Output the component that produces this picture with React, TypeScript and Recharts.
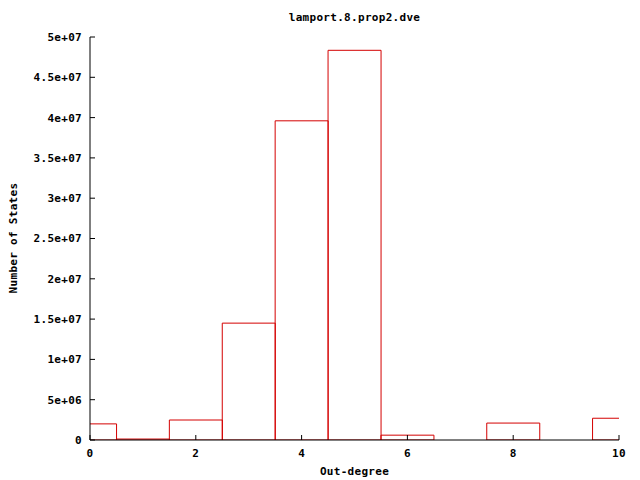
import { BarChart, Bar, XAxis, YAxis } from 'recharts';

const outDegrees = [0, 1, 2, 3, 4, 5, 6, 7, 8, 9, 10];
const stateCounts = [
  2.0e6, 0.12e6, 2.48e6, 14.5e6, 39.6e6, 48.35e6, 0.6e6, 0, 2.1e6, 0, 2.7e6,
];
const xTicks = [0, 2, 4, 6, 8, 10];
const yTicks = [0, 5e6, 1e7, 1.5e7, 2e7, 2.5e7, 3e7, 3.5e7, 4e7, 4.5e7, 5e7];

const data = outDegrees.map((d, i) => ({ degree: d, states: stateCounts[i] }));

const FONT = '"DejaVu Sans Mono", monospace';
const RED = '#d40000';

// gnuplot style: 0, 5e+06, 1.5e+07 ...
function fmtExp(v: number): string {
  if (v === 0) return '0';
  const [m, e] = v.toExponential().split('e');
  const exp = parseInt(e, 10);
  return `${m}e${exp < 0 ? '-' : '+'}${String(Math.abs(exp)).padStart(2, '0')}`;
}

const tickStyle = { fill: '#000', fontSize: 11, fontFamily: FONT, fontWeight: 700, letterSpacing: 0.3 };
const blank = () => '';

export default function App() {
  return (
    <div style={{ position: 'absolute', left: 0, top: 0, width: 640, height: 480, background: '#fff' }}>
      <BarChart
        width={640}
        height={480}
        data={data}
        margin={{ top: 37, right: 21, left: 0, bottom: 0 }}
        barCategoryGap={0}
        barGap={0}
      >
        <XAxis
          xAxisId="bottom"
          dataKey="degree"
          type="number"
          domain={[0, 10]}
          ticks={xTicks}
          allowDataOverflow
          height={40}
          stroke="#000"
          tickSize={-5}
          tickMargin={14}
          tick={tickStyle}
        />
        <XAxis
          xAxisId="top"
          orientation="top"
          dataKey="degree"
          type="number"
          domain={[0, 10]}
          ticks={xTicks}
          allowDataOverflow
          height={0}
          stroke="#000"
          tickSize={-5}
          tickFormatter={blank}
        />
        <YAxis
          yAxisId="left"
          type="number"
          domain={[0, 5e7]}
          ticks={yTicks}
          allowDataOverflow
          width={90}
          stroke="#000"
          tickSize={-5}
          tickMargin={13}
          tick={tickStyle}
          tickFormatter={fmtExp}
        />
        <YAxis
          yAxisId="right"
          orientation="right"
          type="number"
          domain={[0, 5e7]}
          ticks={yTicks}
          width={0}
          stroke="#000"
          tickSize={-5}
          tickFormatter={blank}
        />
        <Bar
          xAxisId="bottom"
          yAxisId="left"
          dataKey="states"
          fill="none"
          stroke={RED}
          strokeWidth={1}
          isAnimationActive={false}
        />
      </BarChart>
      <div
        style={{
          position: 'absolute', left: 90, width: 529, top: 11, textAlign: 'center',
          fontFamily: FONT, fontWeight: 700, fontSize: 11, letterSpacing: 0.3, lineHeight: '14px',
        }}
      >
        lamport.8.prop2.dve
      </div>
      <div
        style={{
          position: 'absolute', left: 90, width: 529, top: 465, textAlign: 'center',
          fontFamily: FONT, fontWeight: 700, fontSize: 11, letterSpacing: 0.3, lineHeight: '14px',
        }}
      >
        Out-degree
      </div>
      <div
        style={{
          position: 'absolute', left: 14, top: 238, width: 0, height: 0,
        }}
      >
        <div
          style={{
            position: 'absolute', left: -100, top: -7, width: 200, textAlign: 'center',
            transform: 'rotate(-90deg)', fontFamily: FONT, fontWeight: 700, fontSize: 11,
            letterSpacing: 0.3, lineHeight: '14px', whiteSpace: 'nowrap',
          }}
        >
          Number of States
        </div>
      </div>
    </div>
  );
}
